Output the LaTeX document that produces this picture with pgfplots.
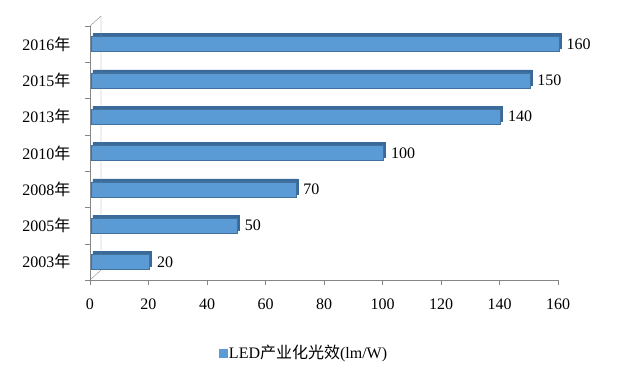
\documentclass[border=0pt]{standalone}
\usepackage{pgfplots}
\pgfplotsset{compat=1.18}
\usepackage{fontspec}
\setmainfont{Liberation Serif}
\newfontfamily\cjk{Noto Sans CJK SC}
\definecolor{barblue}{HTML}{5B9BD5}
\definecolor{baredge}{HTML}{41719C}
\definecolor{bardark}{HTML}{3A6A99}
\definecolor{axgray}{HTML}{868686}
\begin{document}
\begin{tikzpicture}
\begin{axis}[
  at={(0,0)}, anchor=south west,
  scale only axis, width=468bp, height=254bp,
  xbar, bar width=15bp,
  xmin=0, xmax=160, ymin=-0.5, ymax=6.5,
  clip=false,
  /pgf/number format/assume math mode=true,
  xtick={0,20,...,160},
  ytick={0,...,6},
  yticklabels={{2003{\cjk 年}},{2005{\cjk 年}},{2008{\cjk 年}},{2010{\cjk 年}},{2013{\cjk 年}},{2015{\cjk 年}},{2016{\cjk 年}}},
  minor ytick={-0.5,0.5,...,6.5},
  axis x line*=bottom, axis y line*=left,
  tick pos=left, tick align=outside,
  major tick length=5bp, minor tick length=5bp,
  major y tick style={draw=none},
  minor y tick style={axgray},
  major x tick style={axgray},
  axis line style={axgray},
  tick label style={font=\fontsize{16bp}{19bp}\selectfont},
  yticklabel style={xshift=-11bp},
  xticklabel style={yshift=-10bp},
  legend style={draw=none, at={(0.457,-0.287)}, anchor=center, font=\fontsize{16bp}{19bp}\selectfont},
  legend image code/.code={\fill[barblue] (0bp,-4bp) rectangle (8bp,4bp);},
]
\addplot[fill=bardark, draw=bardark, xshift=3bp, yshift=3bp, forget plot] coordinates {
  (20,0) (50,1) (70,2) (100,3) (140,4) (150,5) (160,6)
};
\addplot[fill=barblue, draw=baredge, xshift=1bp,
  nodes near coords,
  every node near coord/.append style={font=\fontsize{16bp}{19bp}\selectfont, anchor=west, xshift=4bp}] coordinates {
  (20,0) (50,1) (70,2) (100,3) (140,4) (150,5) (160,6)
};
\addlegendentry{LED{\cjk 产业化光效}(lm/W)}
\draw[axgray] (rel axis cs:0,0) -- ++(11bp,10bp) -- ([xshift=11bp,yshift=10bp]rel axis cs:0,1) -- (rel axis cs:0,1);
\end{axis}
\path[use as bounding box] (-90bp,-104bp) rectangle (530bp,280bp);
\end{tikzpicture}
\end{document}
